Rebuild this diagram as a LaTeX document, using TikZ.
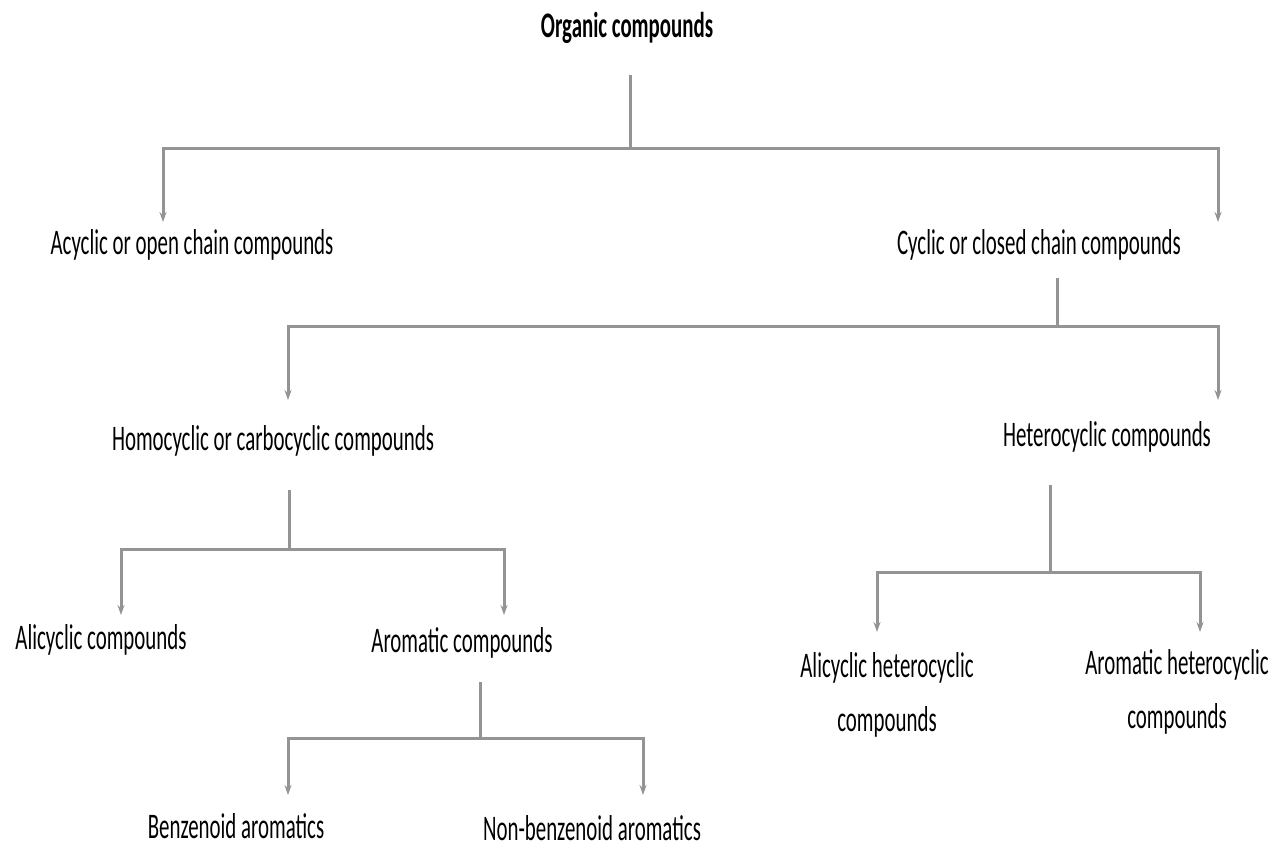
\documentclass[tikz,border=0pt]{standalone}
\usepackage{fontspec}
\setmainfont{Carlito}
\usepackage{graphicx}
\usetikzlibrary{arrows.meta}
\newcommand{\sq}[1]{\scalebox{0.58}[1]{#1}}
\begin{document}
\begin{tikzpicture}[x=1pt,y=-1pt,
  lbl/.style={inner sep=0pt,font=\fontsize{36}{40}\selectfont,text=black,align=center},
  stem/.style={draw=black!42,line width=3pt},
  arr/.style={draw=black!42,line width=3pt,-{Stealth[length=10pt,width=7pt]}}]
\useasboundingbox[fill=white] (0,0) rectangle (1277,847);
% nodes
\node[lbl,font=\fontsize{36}{40}\bfseries] (org) at (627,28) {\sq{Organic compounds}};
\node[lbl] (acy) at (192,245) {\sq{Acyclic or open chain compounds}};
\node[lbl] (cyc) at (1039,245) {\sq{Cyclic or closed chain compounds}};
\node[lbl] (homo) at (273,441) {\sq{Homocyclic or carbocyclic compounds}};
\node[lbl] (het) at (1107,437) {\sq{Heterocyclic compounds}};
\node[lbl] (ali) at (101,640) {\sq{Alicyclic compounds}};
\node[lbl] (aro) at (462,643) {\sq{Aromatic compounds}};
\node[lbl,font=\fontsize{36}{54}\selectfont] (alihet) at (887,695) {\sq{Alicyclic heterocyclic}\\\sq{compounds}};
\node[lbl,font=\fontsize{36}{54}\selectfont] (arohet) at (1177,692) {\sq{Aromatic heterocyclic}\\\sq{compounds}};
\node[lbl] (benz) at (236,826) {\sq{Benzenoid aromatics}};
\node[lbl] (nonbenz) at (592,828) {\sq{Non-benzenoid aromatics}};
% junction coordinates
\coordinate (s1) at (630,75);   \coordinate (j1) at (630,148);
\coordinate (t1a) at (163,222); \coordinate (t1b) at (1218,222);
\coordinate (s2) at (1057,278); \coordinate (j2) at (1057,326);
\coordinate (t2a) at (288,400); \coordinate (t2b) at (1218,400);
\coordinate (s3) at (289,490);  \coordinate (j3) at (289,549);
\coordinate (t3a) at (121,615); \coordinate (t3b) at (504,615);
\coordinate (s4) at (1050,485); \coordinate (j4) at (1050,572);
\coordinate (t4a) at (877,632); \coordinate (t4b) at (1200,632);
\coordinate (s5) at (480,682);  \coordinate (j5) at (480,738);
\coordinate (t5a) at (288,795); \coordinate (t5b) at (643,795);
% connectors
\draw[stem] (s1) -- (j1);
\draw[arr] (j1) -| (t1a);
\draw[arr] (j1) -| (t1b);
\draw[stem] (s2) -- (j2);
\draw[arr] (j2) -| (t2a);
\draw[arr] (j2) -| (t2b);
\draw[stem] (s3) -- (j3);
\draw[arr] (j3) -| (t3a);
\draw[arr] (j3) -| (t3b);
\draw[stem] (s4) -- (j4);
\draw[arr] (j4) -| (t4a);
\draw[arr] (j4) -| (t4b);
\draw[stem] (s5) -- (j5);
\draw[arr] (j5) -| (t5a);
\draw[arr] (j5) -| (t5b);
\end{tikzpicture}
\end{document}
